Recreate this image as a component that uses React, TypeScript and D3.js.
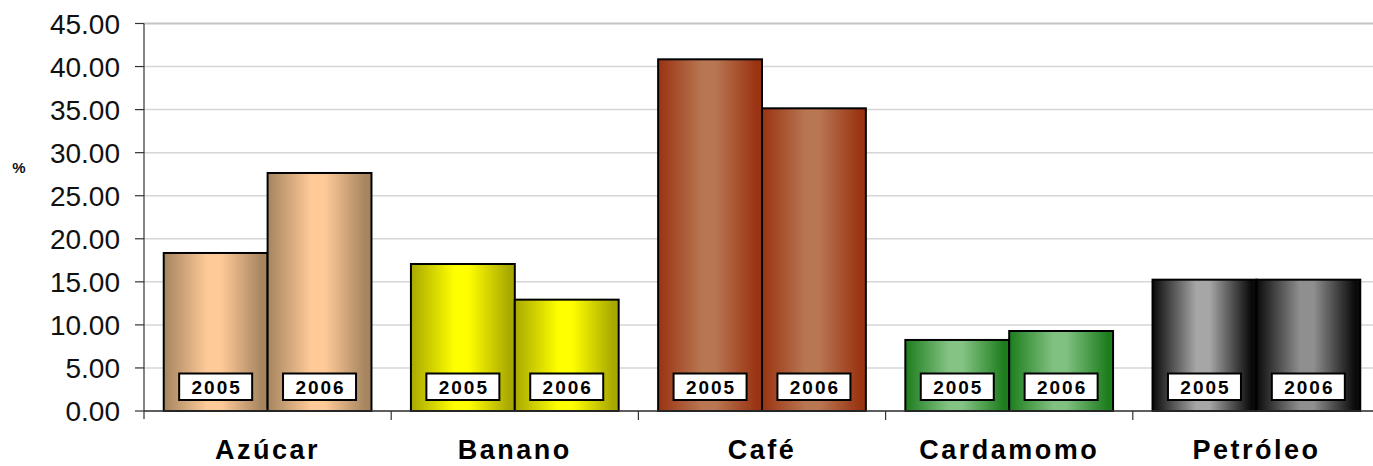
import React from "react";
import * as d3 from "d3";

const categories = ["Azúcar", "Banano", "Café", "Cardamomo", "Petróleo"];
const years = ["2005", "2006"];
const values2005 = [18.35, 17.07, 40.84, 8.25, 15.25];
const values2006 = [27.64, 12.93, 35.15, 9.29, 15.25];
const yTicks = [0, 5, 10, 15, 20, 25, 30, 35, 40, 45];
const darkColors = ["#a5845f", "#a8a800", "#993311", "#1d7d1d", "#0a0a0a"];
const lightColors2005 = ["#ffca98", "#ffff00", "#b97652", "#84c384", "#a6a6a6"];
const lightColors2006 = ["#ffca98", "#ffff00", "#b97652", "#80c080", "#8f8f8f"];

const W = 1373;
const H = 466;
const left = 144;
const top = 23.5;
const bottom = 411;
const right = 1380;

export default function App() {
  const x = d3.scaleBand<string>().domain(categories).range([left, right]).paddingInner(0).paddingOuter(0);
  const inner = d3.scaleBand<string>().domain(years).range([0, x.bandwidth()]).paddingInner(0).paddingOuter(0.19);
  const y = d3.scaleLinear().domain([0, 45]).range([bottom, top]);
  const series = [values2005, values2006];
  const lights = [lightColors2005, lightColors2006];

  return (
    <svg
      width={W}
      height={H}
      style={{ position: "absolute", left: 0, top: 0, background: "#fff" }}
      fontFamily="'Liberation Sans', Arial, sans-serif"
    >
      <defs>
        {categories.map((c, ci) =>
          years.map((yr, si) => (
            <linearGradient key={`g${ci}${si}`} id={`g${ci}-${si}`} x1="0" x2="1" y1="0" y2="0">
              <stop offset="0" stopColor={darkColors[ci]} />
              <stop offset="0.42" stopColor={lights[si][ci]} />
              <stop offset="0.55" stopColor={lights[si][ci]} />
              <stop offset="0.95" stopColor={darkColors[ci]} />
              <stop offset="1" stopColor={darkColors[ci]} />
            </linearGradient>
          ))
        )}
      </defs>
      <rect x={0} y={0} width={W} height={H} fill="#fff" />
      {/* gridlines */}
      {yTicks.map((t) => (
        <line
          key={`gr${t}`}
          x1={left}
          x2={right}
          y1={y(t)}
          y2={y(t)}
          stroke={t === 45 ? "#c4c4c4" : "#d6d6d6"}
          strokeWidth={t === 45 ? 2 : 1.5}
        />
      ))}
      {/* y axis */}
      <line x1={left} x2={left} y1={top} y2={bottom + 8} stroke="#333" strokeWidth={1.2} />
      {yTicks.map((t) => (
        <g key={`yt${t}`}>
          <line x1={left - 9} x2={left} y1={y(t)} y2={y(t)} stroke="#333" strokeWidth={1.2} />
          <text x={120} y={y(t)} dy="0.36em" textAnchor="end" fontSize={28} fill="#111">
            {t.toFixed(2)}
          </text>
        </g>
      ))}
      <text x={19} y={168} dy="0.35em" textAnchor="middle" fontSize={15} fontWeight="bold" fill="#111">
        %
      </text>
      {/* bars */}
      {categories.map((c, ci) =>
        years.map((yr, si) => {
          const bx = (x(c) as number) + (inner(yr) as number);
          const bw = inner.bandwidth();
          const v = series[si][ci];
          return (
            <g key={`b${ci}${si}`}>
              <rect
                x={bx}
                y={y(v)}
                width={bw}
                height={y(0) - y(v)}
                fill={`url(#g${ci}-${si})`}
                stroke="#000"
                strokeWidth={2}
              />
            </g>
          );
        })
      )}
      {/* x axis */}
      <line x1={left} x2={right} y1={bottom} y2={bottom} stroke="#333" strokeWidth={1.5} />
      {categories.map((c, ci) => (
        <line
          key={`xt${ci}`}
          x1={(x(c) as number) + x.bandwidth()}
          x2={(x(c) as number) + x.bandwidth()}
          y1={bottom}
          y2={bottom + 9}
          stroke="#333"
          strokeWidth={1.2}
        />
      ))}
      {/* year labels */}
      {categories.map((c, ci) =>
        years.map((yr, si) => {
          const cx = (x(c) as number) + (inner(yr) as number) + inner.bandwidth() / 2;
          return (
            <g key={`l${ci}${si}`}>
              <rect x={cx - 36.5} y={373.5} width={73} height={26.5} fill="#fff" stroke="#000" strokeWidth={2} />
              <text
                x={cx + 1}
                y={387}
                dy="0.36em"
                textAnchor="middle"
                fontSize={19}
                fontWeight="bold"
                letterSpacing={2}
                fill="#000"
              >
                {yr}
              </text>
            </g>
          );
        })
      )}
      {/* category labels */}
      {categories.map((c) => (
        <text
          key={`c${c}`}
          x={(x(c) as number) + x.bandwidth() / 2}
          y={459}
          textAnchor="middle"
          fontSize={27}
          fontWeight="bold"
          letterSpacing={2.5}
          fill="#000"
        >
          {c}
        </text>
      ))}
    </svg>
  );
}
